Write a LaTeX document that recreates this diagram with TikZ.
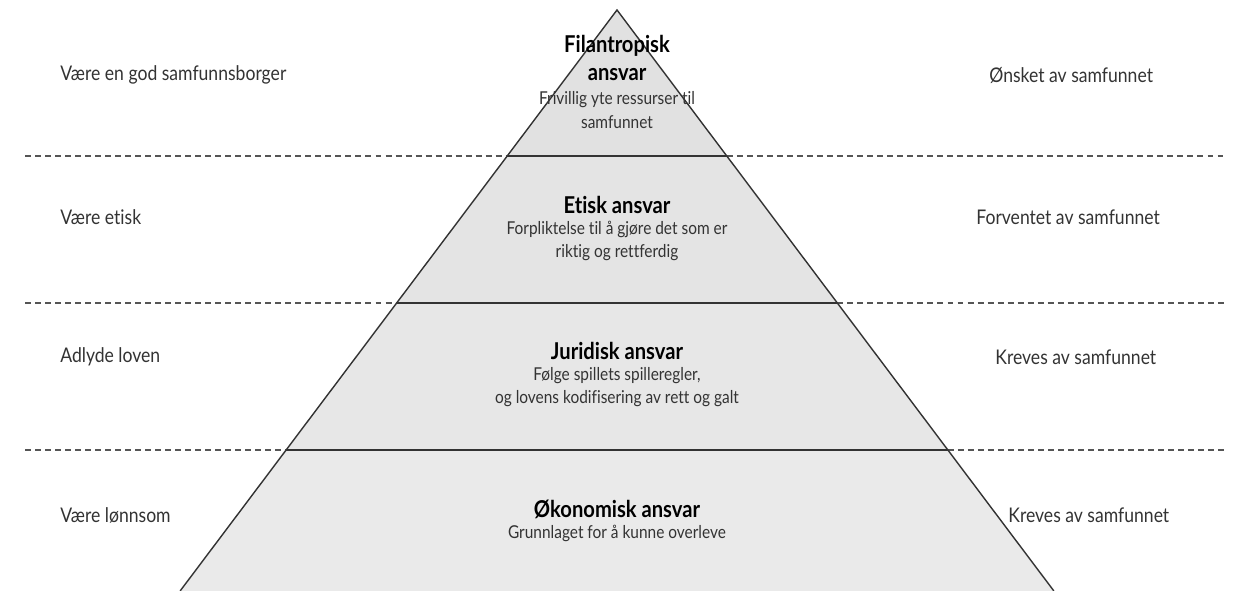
\documentclass[tikz,border=0pt]{standalone}
\usepackage{fontspec}
\setmainfont{Lato}[FakeStretch=0.87, Ligatures=NoCommon]
\usetikzlibrary{positioning}
\definecolor{txtgray}{HTML}{333333}
\definecolor{linegray}{HTML}{333333}
\definecolor{dashgray}{HTML}{555555}
\definecolor{bandA}{HTML}{E1E1E1}
\definecolor{bandB}{HTML}{E4E4E4}
\definecolor{bandC}{HTML}{E7E7E7}
\definecolor{bandD}{HTML}{EAEAEA}
\tikzset{
  sidelabel/.style={anchor=west, text=txtgray, inner sep=0pt, font=\fontsize{11.5}{13.8}\selectfont},
  layertitle/.style={align=center, inner sep=0pt, font=\bfseries\fontsize{13.2}{15.5}\selectfont},
  layerdesc/.style={align=center, inner sep=0pt, text=txtgray, font=\fontsize{10.1}{13.2}\selectfont},
  sepline/.style={dashgray, dash pattern=on 3.4pt off 2.3pt, line width=0.6pt},
}

\begin{document}
\begin{tikzpicture}[x=0.02cm, y=-0.02cm]
    \useasboundingbox (0,0) rectangle (1242,591);

    % bands of the pyramid, apex (617,10), half width .752 per px
    \foreach \ya/\yb/\col in {10/156/bandA, 156/303/bandB, 303/450/bandC, 450/591/bandD}
    {
        \pgfmathsetmacro\wa{0.752*(\ya-10)}
        \pgfmathsetmacro\wb{0.752*(\yb-10)}
        \fill[\col] (617-\wa,\ya)--(617+\wa,\ya)--(617+\wb,\yb)--(617-\wb,\yb)--cycle;
    }

    % dashed separators outside, solid inside
    \foreach \y in {156, 303, 450}
    {
        \pgfmathsetmacro\w{0.752*(\y-10)}
        \draw[sepline](25,\y)--(617-\w,\y);
        \draw[sepline](617+\w,\y)--(1227,\y);
        \draw[linegray, line width=0.8pt](617-\w,\y)--(617+\w,\y);
    }

    % sides
    \draw[linegray, line width=0.8pt](180.1,591)--(617,10)--(1053.9,591);

    % left column
    \node[sidelabel] (borger) at (60,75) {Være en god samfunnsborger};
    \node[sidelabel] (etisk) at (60,217) {Være etisk};
    \node[sidelabel] (lov) at (60,357) {Adlyde loven};
    \node[sidelabel] (lonn) at (60,515) {Være lønnsom};

    % right column
    \node[sidelabel] (onsket) at (989,75) {Ønsket av samfunnet};
    \node[sidelabel] (forventet) at (976,217) {Forventet av samfunnet};
    \node[sidelabel] (kreves) at (995,357) {Kreves av samfunnet};
    \node[sidelabel] (krevesb) at (1008,515) {Kreves av samfunnet};

    % layers
    \node[layertitle] (filantropisk) at (617,58) {Filantropisk\\ansvar};
    \node[layerdesc] (filantropiskdesc) at (617,110) {Frivillig yte ressurser til\\samfunnet};
    \node[layertitle] (etiskansvar) at (617,205) {Etisk ansvar};
    \node[layerdesc] (etiskdesc) at (617,241) {Forpliktelse til å gjøre det som er\\riktig og rettferdig};
    \node[layertitle] (juridisk) at (617,351) {Juridisk ansvar};
    \node[layerdesc] (juridiskdesc) at (617,387) {Følge spillets spilleregler,\\og lovens kodifisering av rett og galt};
    \node[layertitle] (okonomisk) at (617,509) {Økonomisk ansvar};
    \node[layerdesc] (okonomiskdesc) at (617,533) {Grunnlaget for å kunne overleve};
\end{tikzpicture}
\end{document}
